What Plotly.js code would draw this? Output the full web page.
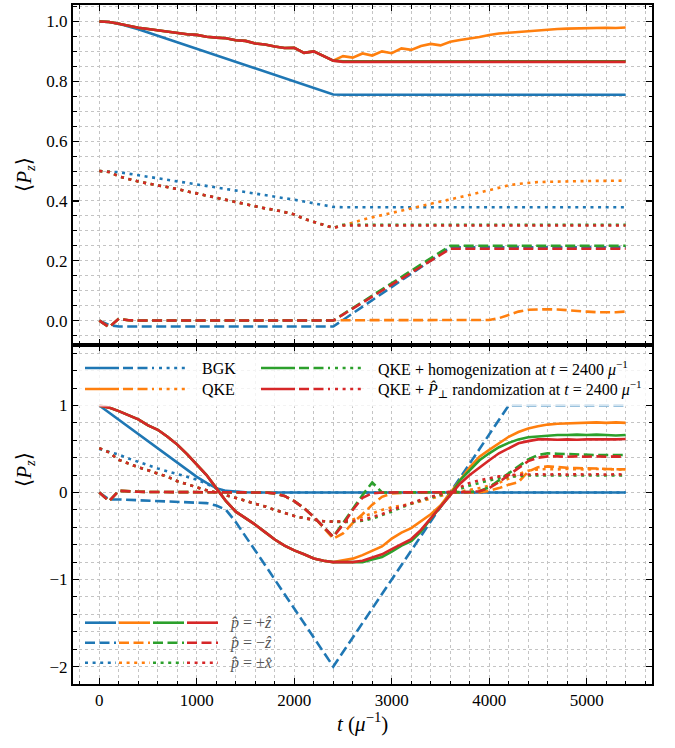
<!DOCTYPE html>
<html>
<head>
<meta charset="utf-8">
<script src="https://cdn.plot.ly/plotly-3.0.1.min.js"></script>
<style>html,body{margin:0;padding:0;background:#fff;}#plot{width:675px;height:748px;}</style>
</head>
<body>
<div id="plot"></div>
<script>
// ---------- DATA ----------
const T = [0,100,200,300,400,500,600,700,800,900,1000,1100,1200,1300,1400,1500,1600,1700,1800,1900,2000,2100,2200,2300,2400,
  2500,2600,2700,2800,2900,3000,3100,3200,3300,3400,3500,3600,3700,3800,3900,4000,4100,4200,4300,4400,4500,4600,4700,4800,4900,5000,5100,5200,5300,5400];

// ===== top panel =====
// +z (solid)
const topBGKp = [1.0,0.998,0.992,0.984,0.974,0.963,0.952,0.941,0.930,0.919,0.908,0.897,0.886,0.875,0.864,0.853,0.842,0.831,0.820,0.809,0.798,0.787,0.776,0.765,0.756,
  0.755,0.755,0.755,0.755,0.755,0.755,0.755,0.755,0.755,0.755,0.755,0.755,0.755,0.755,0.755,0.755,0.755,0.755,0.755,0.755,0.755,0.755,0.755,0.755,0.755,0.755,0.755,0.755,0.755,0.755];
const topQKEpPre = [1.0,0.998,0.992,0.985,0.979,0.975,0.970,0.966,0.962,0.957,0.955,0.949,0.946,0.944,0.937,0.935,0.926,0.923,0.916,0.911,0.912,0.895,0.900,0.884,0.869];
const topQKEpPost = [0.884,0.879,0.893,0.886,0.900,0.894,0.910,0.905,0.918,0.925,0.920,0.932,0.938,0.942,0.948,0.955,0.960,0.962,0.965,0.968,0.970,0.972,0.975,0.976,0.977,0.978,0.978,0.979,0.978,0.980];
const topHompPost = [0.867,0.867,0.867,0.867,0.867,0.867,0.867,0.867,0.867,0.867,0.867,0.867,0.867,0.867,0.867,0.867,0.867,0.867,0.867,0.867,0.867,0.867,0.867,0.867,0.867,0.867,0.867,0.867,0.867,0.867];
const topRndpPost = [0.865,0.865,0.865,0.865,0.865,0.865,0.865,0.865,0.865,0.865,0.865,0.865,0.865,0.865,0.865,0.865,0.865,0.865,0.865,0.865,0.865,0.865,0.865,0.865,0.865,0.865,0.865,0.865,0.865,0.865];
// -z (dashed)
const topBGKm = [0,-0.015,-0.02,-0.02,-0.02,-0.02,-0.02,-0.02,-0.02,-0.02,-0.02,-0.02,-0.02,-0.02,-0.02,-0.02,-0.02,-0.02,-0.02,-0.02,-0.02,-0.02,-0.02,-0.02,-0.02,
  0.002,0.024,0.046,0.068,0.090,0.113,0.135,0.157,0.179,0.201,0.223,0.245,0.245,0.245,0.245,0.245,0.245,0.245,0.245,0.245,0.245,0.245,0.245,0.245,0.245,0.245,0.245,0.245,0.245,0.245];
const topQKEmPre = [0,-0.022,0.006,0.001,0,0,0,0,0,0,0,0,0,0,0,0,0,0,0,0,0,0,0,0,0];
const topQKEmPost = [0,0,0,0,0,0,0,0,0,0,0,0,0,0,0,0.002,0.008,0.018,0.030,0.036,0.038,0.038,0.037,0.034,0.032,0.030,0.028,0.027,0.028,0.030];
const topHommPost = [0.021,0.042,0.063,0.084,0.105,0.126,0.147,0.168,0.189,0.210,0.230,0.250,0.25,0.25,0.25,0.25,0.25,0.25,0.25,0.25,0.25,0.25,0.25,0.25,0.25,0.25,0.25,0.25,0.25,0.25];
const topRndmPost = [0.02,0.04,0.06,0.08,0.10,0.12,0.14,0.16,0.18,0.20,0.22,0.24,0.24,0.24,0.24,0.24,0.24,0.24,0.24,0.24,0.24,0.24,0.24,0.24,0.24,0.24,0.24,0.24,0.24,0.24];
// ±x (dotted)
const topBGKx = [0.5,0.499,0.496,0.491,0.486,0.481,0.476,0.471,0.466,0.461,0.456,0.451,0.446,0.441,0.436,0.431,0.426,0.421,0.416,0.410,0.404,0.398,0.392,0.386,0.380,
  0.379,0.379,0.379,0.379,0.379,0.379,0.379,0.379,0.379,0.379,0.379,0.379,0.379,0.379,0.379,0.379,0.379,0.379,0.379,0.379,0.379,0.379,0.379,0.379,0.379,0.379,0.379,0.379,0.379,0.379];
const topQKExPre = [0.5,0.497,0.482,0.473,0.465,0.458,0.452,0.447,0.440,0.432,0.425,0.417,0.410,0.402,0.396,0.390,0.382,0.375,0.370,0.362,0.355,0.340,0.330,0.322,0.310];
const topQKExPost = [0.318,0.328,0.337,0.345,0.352,0.360,0.368,0.375,0.383,0.390,0.397,0.404,0.412,0.420,0.428,0.436,0.445,0.452,0.457,0.461,0.463,0.464,0.465,0.465,0.466,0.466,0.467,0.467,0.468,0.468];
const topHomxPost = [0.32,0.32,0.32,0.32,0.32,0.32,0.32,0.32,0.32,0.32,0.32,0.32,0.32,0.32,0.32,0.32,0.32,0.32,0.32,0.32,0.32,0.32,0.32,0.32,0.32,0.32,0.32,0.32,0.32,0.32];
const topRndxPost = [0.318,0.318,0.318,0.318,0.318,0.318,0.318,0.318,0.318,0.318,0.318,0.318,0.318,0.318,0.318,0.318,0.318,0.318,0.318,0.318,0.318,0.318,0.318,0.318,0.318,0.318,0.318,0.318,0.318,0.318];

// ===== bottom panel =====
const botBGKp = [1.0,0.918,0.836,0.754,0.672,0.590,0.508,0.426,0.344,0.262,0.180,0.110,0.050,0.018,0.006,0.002,
  0,0,0,0,0,0,0,0,0,0,0,0,0,0,0,0,0,0,0,0,0,0,0,0,0,0,0,0,0,0,0,0,0,0,0,0,0,0,0];
const botQKEpPre = [1.0,0.975,0.935,0.89,0.84,0.77,0.72,0.64,0.55,0.44,0.32,0.2,0.05,-0.1,-0.22,-0.29,-0.37,-0.455,-0.54,-0.61,-0.665,-0.71,-0.757,-0.785,-0.8];
const botQKEpPost = [-0.78,-0.76,-0.72,-0.67,-0.62,-0.53,-0.46,-0.41,-0.33,-0.25,-0.15,-0.01,0.14,0.29,0.41,0.49,0.565,0.64,0.695,0.735,0.76,0.78,0.79,0.795,0.8,0.8,0.805,0.8,0.805,0.8];
const botHompPost = [-0.8,-0.8,-0.8,-0.77,-0.74,-0.68,-0.61,-0.56,-0.45,-0.3,-0.17,-0.03,0.14,0.26,0.37,0.45,0.52,0.57,0.61,0.635,0.645,0.655,0.66,0.66,0.665,0.66,0.665,0.66,0.655,0.66];
const botRndpPost = [-0.8,-0.8,-0.785,-0.75,-0.71,-0.65,-0.59,-0.535,-0.43,-0.3,-0.17,-0.03,0.1,0.2,0.29,0.37,0.45,0.51,0.565,0.59,0.61,0.61,0.605,0.61,0.605,0.61,0.607,0.612,0.61,0.615];
const botBGKm = [0,-0.08,-0.08,-0.085,-0.088,-0.09,-0.094,-0.098,-0.102,-0.107,-0.113,-0.122,-0.15,-0.2,-0.34,-0.5,-0.667,-0.833,-1.0,-1.167,-1.333,-1.5,-1.667,-1.833,-2.0,
  -1.833,-1.667,-1.5,-1.333,-1.167,-1.0,-0.833,-0.667,-0.5,-0.333,-0.167,0,0.167,0.333,0.5,0.667,0.833,1.0,1.0,1.0,1.0,1.0,1.0,1.0,1.0,1.0,1.0,1.0,1.0,1.0];
const botRndmPre = [0,-0.1,0.02,0.01,0.008,0.006,0.005,0.005,0.005,0.004,0.004,0.004,0.003,0.003,0.003,0.002,0.002,0.0,-0.01,-0.04,-0.1,-0.18,-0.28,-0.39,-0.51];
const botQKEmPre = [0,-0.1,0.02,0.01,0.008,0.006,0.005,0.005,0.005,0.004,0.004,0.004,0.003,0.003,0.003,0.002,0.002,0.0,-0.01,-0.04,-0.1,-0.18,-0.28,-0.41,-0.53];
const botQKEmPost = [-0.47,-0.35,-0.25,-0.14,-0.05,-0.01,-0.005,0,0,0,0,0,0,0,0,0.02,0.05,0.09,0.12,0.24,0.29,0.3,0.29,0.285,0.28,0.28,0.275,0.27,0.27,0.265];
const botHommPost = [-0.35,-0.19,-0.03,0.115,0,0,0,0,0,0,0,0,0,0.005,0.015,0.06,0.14,0.22,0.3,0.38,0.43,0.45,0.445,0.44,0.435,0.435,0.43,0.43,0.43,0.43];
const botRndmPost = [-0.37,-0.2,-0.06,-0.01,0,0,0,0,0,0,0,0,0,0.005,0.015,0.05,0.12,0.2,0.28,0.36,0.4,0.415,0.415,0.41,0.415,0.41,0.415,0.41,0.415,0.41];
const botBGKx = [0.5,0.47,0.435,0.39,0.35,0.31,0.275,0.243,0.21,0.18,0.148,0.1,0.045,0.012,0.003,
  0,0,0,0,0,0,0,0,0,0,0,0,0,0,0,0,0,0,0,0,0,0,0,0,0,0,0,0,0,0,0,0,0,0,0,0,0,0,0,0];
const botQKExPre = [0.51,0.46,0.375,0.33,0.29,0.255,0.215,0.18,0.13,0.095,0.06,0.025,0.0,-0.03,-0.06,-0.095,-0.13,-0.16,-0.2,-0.235,-0.27,-0.295,-0.315,-0.33,-0.335];
const botQKExPost = [-0.33,-0.31,-0.28,-0.24,-0.2,-0.17,-0.15,-0.13,-0.1,-0.07,-0.04,-0.01,0.01,0.03,0.05,0.08,0.11,0.16,0.21,0.25,0.265,0.27,0.265,0.27,0.265,0.265,0.27,0.265,0.265,0.265];
const botHomxPost = [-0.34,-0.335,-0.325,-0.3,-0.26,-0.22,-0.17,-0.13,-0.09,-0.06,-0.03,0.0,0.04,0.08,0.11,0.14,0.165,0.18,0.19,0.195,0.195,0.195,0.2,0.195,0.195,0.2,0.195,0.195,0.2,0.195];
const botRndxPost = [-0.335,-0.33,-0.315,-0.28,-0.25,-0.2,-0.16,-0.12,-0.085,-0.05,-0.02,0.01,0.06,0.11,0.14,0.165,0.185,0.2,0.205,0.205,0.21,0.205,0.21,0.205,0.21,0.205,0.21,0.205,0.21,0.205];

const legendMain = ["BGK", "QKE", "QKE + homogenization at <i>t</i> = 2400 <i>μ</i><sup>−1</sup>",
  "QKE + <i>P̂</i><sub>⊥</sub> randomization at <i>t</i> = 2400 <i>μ</i><sup>−1</sup>"];
const legendDir = ["<i>p̂</i> = +<i>ẑ</i>", "<i>p̂</i> = −<i>ẑ</i>", "<i>p̂</i> = ±<i>x̂</i>"];

// ---------- STYLE ----------
const C = {b:'#1f77b4', o:'#ff7f0e', g:'#2ca02c', r:'#d62728'};
const DASH = {solid:'solid', dash:'10px,4.5px', dot:'3px,4.6px'};
const LW = 2.6;
const FONT = 'Liberation Serif, DejaVu Serif, serif';

function tr(y, color, dash, xa, ya){
  return {x:T, y:y, xaxis:xa, yaxis:ya, mode:'lines', showlegend:false, hoverinfo:'skip',
    line:{color:color, width:LW, dash:DASH[dash]}};
}
const traces = [];
// top panel (x2,y2)
[
  [topBGKp, C.b, 'solid'], [topBGKm, C.b, 'dash'], [topBGKx, C.b, 'dot'],
  [topQKEpPre.concat(topQKEpPost), C.o, 'solid'], [topQKEmPre.concat(topQKEmPost), C.o, 'dash'], [topQKExPre.concat(topQKExPost), C.o, 'dot'],
  [topQKEpPre.concat(topHompPost), C.g, 'solid'], [topQKEmPre.concat(topHommPost), C.g, 'dash'], [topQKExPre.concat(topHomxPost), C.g, 'dot'],
  [topQKEpPre.concat(topRndpPost), C.r, 'solid'], [topQKEmPre.concat(topRndmPost), C.r, 'dash'], [topQKExPre.concat(topRndxPost), C.r, 'dot']
].forEach(s => traces.push(tr(s[0], s[1], s[2], 'x2', 'y2')));
// bottom panel (x,y)
[
  [botBGKp, C.b, 'solid'], [botBGKm, C.b, 'dash'], [botBGKx, C.b, 'dot'],
  [botQKEpPre.concat(botQKEpPost), C.o, 'solid'], [botQKEmPre.concat(botQKEmPost), C.o, 'dash'], [botQKExPre.concat(botQKExPost), C.o, 'dot'],
  [botQKEpPre.concat(botHompPost), C.g, 'solid'], [botRndmPre.concat(botHommPost), C.g, 'dash'], [botQKExPre.concat(botHomxPost), C.g, 'dot'],
  [botQKEpPre.concat(botRndpPost), C.r, 'solid'], [botRndmPre.concat(botRndmPost), C.r, 'dash'], [botQKExPre.concat(botRndxPost), C.r, 'dot']
].forEach(s => traces.push(tr(s[0], s[1], s[2], 'x', 'y')));

// ---------- LAYOUT ----------
const W = 675, H = 748, ML = 73, MR = 23, MT = 5, MB = 64;
const PW = W - ML - MR, PH = H - MT - MB;
const px = v => (v - ML) / PW;
const py = v => (H - MB - v) / PH;

const grid = {showgrid:true, gridcolor:'#c4c4c4', gridwidth:1, griddash:'dot'};
function xax(extra){
  return Object.assign({range:[-270,5670], dtick:1000, tick0:0, ticks:'inside', ticklen:6, tickwidth:1.2, tickcolor:'#000',
    showline:true, linewidth:2, linecolor:'#000', mirror:'allticks', zeroline:false,
    tickfont:{family:FONT, size:17, color:'#000'},
    minor:Object.assign({dtick:200, ticks:'inside', ticklen:3.5, tickwidth:1, tickcolor:'#000'}, grid)}, grid, extra);
}
function yax(extra, mdt){
  return Object.assign({ticks:'inside', ticklen:6, tickwidth:1.2, tickcolor:'#000',
    showline:true, linewidth:2, linecolor:'#000', mirror:'allticks', zeroline:false,
    tickfont:{family:FONT, size:17, color:'#000'},
    minor:Object.assign({dtick:mdt, ticks:'inside', ticklen:3.5, tickwidth:1, tickcolor:'#000'}, grid)}, grid, extra);
}

const shapes = [];
const annotations = [];
// main legend background
shapes.push({type:'rect', xref:'paper', yref:'paper', x0:px(78), x1:px(646), y0:py(355), y1:py(406.5),
  fillcolor:'rgba(255,255,255,0.8)', line:{width:0}, layer:'above'});
function seg(x0, x1, y, color, dash){
  shapes.push({type:'line', xref:'paper', yref:'paper', x0:px(x0), x1:px(x1), y0:py(y), y1:py(y),
    line:{color:color, width:LW, dash:DASH[dash]}, layer:'above'});
}
const mainCols = [C.b, C.o, C.g, C.r];
const mainPos = [[85,368],[85,389],[261,368],[261,389]];
mainPos.forEach((p, i) => {
  seg(p[0], p[0]+34, p[1], mainCols[i], 'solid');
  seg(p[0]+38, p[0]+69, p[1], mainCols[i], 'dash');
  seg(p[0]+74, p[0]+103, p[1], mainCols[i], 'dot');
  annotations.push({xref:'paper', yref:'paper', x:px(p[0]+115), y:py(p[1]), xanchor:'left', yanchor:'middle',
    text:legendMain[i], showarrow:false, font:{family:FONT, size:16, color:'#000'}});
});
const dirDash = ['solid','dash','dot'];
const dirY = [622.7, 642.7, 662.7];
dirY.forEach((y, i) => {
  mainCols.forEach((c, j) => {
    const x0 = 85 + j*34;
    seg(x0, x0+31, y, c, dirDash[i]);
  });
  annotations.push({xref:'paper', yref:'paper', x:px(228), y:py(y), xanchor:'left', yanchor:'middle',
    text:legendDir[i], showarrow:false, font:{family:FONT, size:16, color:'#555'}});
});
// axis titles
annotations.push({xref:'paper', yref:'paper', x:px(25), y:py(175), text:'⟨<i>P</i><sub><i>z</i></sub>⟩', textangle:-90,
  showarrow:false, xanchor:'center', yanchor:'middle', font:{family:FONT, size:21, color:'#000'}});
annotations.push({xref:'paper', yref:'paper', x:px(25), y:py(470), text:'⟨<i>P</i><sub><i>z</i></sub>⟩', textangle:-90,
  showarrow:false, xanchor:'center', yanchor:'middle', font:{family:FONT, size:21, color:'#000'}});
annotations.push({xref:'paper', yref:'paper', x:px(362), y:py(722), text:'<i>t</i> (<i>μ</i><sup>−1</sup>)',
  showarrow:false, xanchor:'center', yanchor:'middle', font:{family:FONT, size:21, color:'#000'}});

const layout = {
  width:W, height:H, margin:{l:ML, r:MR, t:MT, b:MB}, paper_bgcolor:'#fff', plot_bgcolor:'#fff',
  showlegend:false,
  xaxis: xax({anchor:'y', domain:[0,1]}),
  yaxis: yax({domain:[0,0.5], range:[-2.2,1.7], dtick:1, tick0:0, anchor:'x'}, 0.2),
  xaxis2: xax({anchor:'y2', domain:[0,1], showticklabels:false}),
  yaxis2: yax({domain:[0.5,1], range:[-0.08,1.055], dtick:0.2, tick0:0, tickformat:'.1f', anchor:'x2'}, 0.05),
  shapes:shapes, annotations:annotations
};
Plotly.newPlot('plot', traces, layout, {displayModeBar:false, staticPlot:true});
</script>
</body>
</html>
